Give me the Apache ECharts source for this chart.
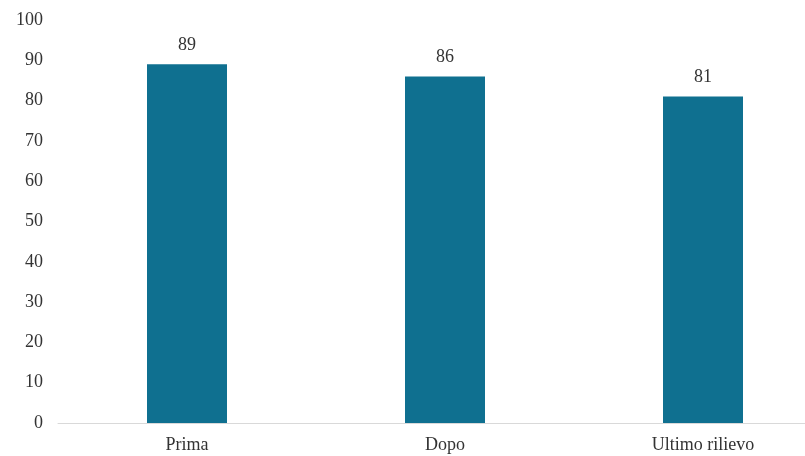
<!DOCTYPE html>
<html>
<head>
<meta charset="utf-8">
<script src="https://cdn.jsdelivr.net/npm/echarts@6/dist/echarts.min.js"></script>
<style>html,body{margin:0;padding:0;background:#fff;width:805px;height:456px;overflow:hidden}#c{width:832px;height:456px}</style>
</head>
<body>
<div id="c"></div>
<script>
var categories = ['Prima', 'Dopo', 'Ultimo rilievo'];
var values = [89, 86, 81];
var yTicks = [0, 10, 20, 30, 40, 50, 60, 70, 80, 90, 100];

var chart = echarts.init(document.getElementById('c'), null, {renderer: 'canvas'});
var font = 'Liberation Serif';
chart.setOption({
  animation: false,
  backgroundColor: '#ffffff',
  grid: {left: 58, top: 20, right: 0, bottom: 33, containLabel: false},
  xAxis: {
    type: 'category',
    data: categories,
    axisLine: {show: true, lineStyle: {color: '#d9d9d9', width: 1}},
    axisTick: {show: false},
    axisLabel: {color: '#333333', fontFamily: font, fontSize: 18, margin: 13}
  },
  yAxis: {
    type: 'value',
    min: yTicks[0],
    max: yTicks[yTicks.length - 1],
    interval: 10,
    axisLine: {show: false},
    axisTick: {show: false},
    splitLine: {show: false},
    axisLabel: {color: '#333333', fontFamily: font, fontSize: 18, margin: 15}
  },
  series: [{
    type: 'bar',
    data: values,
    barWidth: 80,
    itemStyle: {color: '#0f7090'},
    label: {show: true, position: 'top', distance: 10, color: '#333333', fontFamily: font, fontSize: 18}
  }]
});
</script>
</body>
</html>
